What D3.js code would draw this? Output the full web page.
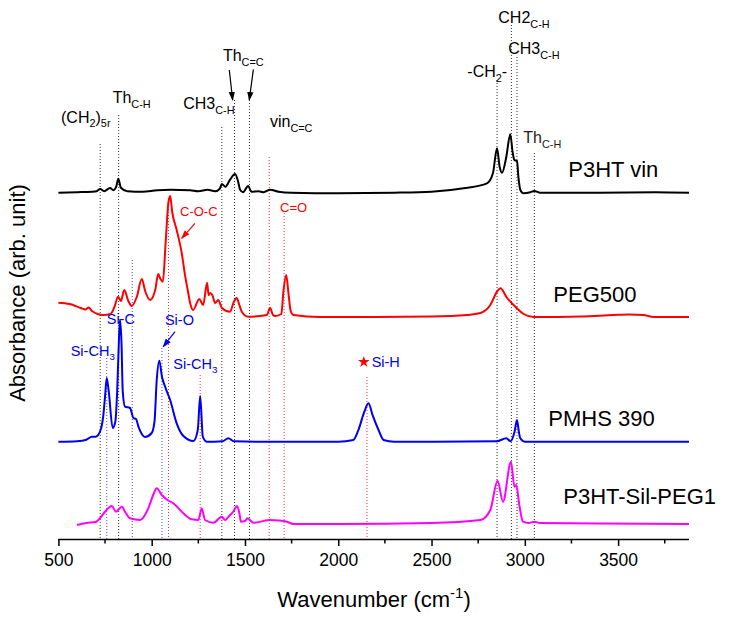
<!DOCTYPE html>
<html><head><meta charset="utf-8">
<script src="https://cdn.jsdelivr.net/npm/d3@7"></script>
<style>
html,body{margin:0;padding:0;background:#fff;}
svg{display:block;font-family:"Liberation Sans",Arial,sans-serif;}
</style></head>
<body>
<svg id="chart" width="729" height="619"></svg>
<script>
// ---------------- DATA ----------------
const xDomain = [500, 3880];
const yDomain = [0, 53.9];               // arbitrary absorbance units
const majorTicks = [500, 1000, 1500, 2000, 2500, 3000, 3500];
const minorTicks = [750, 1250, 1750, 2250, 2750, 3250, 3750];
const xTitle = "Wavenumber (cm";
const yTitle = "Absorbance (arb. unit)";

const seriesNames = ["P3HT vin", "PEG500", "PMHS 390", "P3HT-Sil-PEG1"];
const seriesOffsets = [34.63, 22.2, 9.73, 1.5];

const p3htVin = [[500,0],[600,0.05],[680,0.1],[705,0.15],[724,0.37],[745,0.15],[777,0.47],[795,0.25],[810,0.6],[821,1.4],[835,0.5],[870,0.15],[950,0.1],[1030,0.25],[1100,0.3],[1206,0.25],[1250,0.15],[1300,0.3],[1340,0.15],[1365,0.4],[1376,0.87],[1395,0.6],[1420,1.3],[1447,1.87],[1462,1.2],[1474,0.3],[1490,0.05],[1517,0.67],[1535,0.1],[1572,0.15],[1600,0.05],[1635,0.3],[1680,0.1],[1750,0],[2000,-0.05],[2300,0],[2500,0.1],[2672,0.44],[2797,0.94],[2829,1.94],[2851,4.44],[2865,2.6],[2878,2.0],[2900,3.5],[2922,5.84],[2935,4.0],[2944,3.27],[2958,3.17],[2966,1.5],[2976,0.27],[2994,-0.06],[3030,0.05],[3051,0.17],[3083,0],[3400,0],[3700,0.05],[3880,0]];

const peg500 = [[500,1.43],[560,1.3],[620,0.9],[645,0.75],[662,0.95],[680,0.6],[740,0.2],[780,0.3],[800,1.0],[820,2.03],[835,1.6],[853,2.7],[875,1.6],[893,1.1],[920,2.0],[947,3.8],[965,2.6],[992,1.7],[1020,2.8],[1035,4.3],[1047,3.8],[1060,3.53],[1075,7.5],[1090,11.5],[1099,12.1],[1110,10.5],[1134,8.7],[1161,6.4],[1180,4.03],[1195,2.5],[1206,1.4],[1222,0.7],[1255,1.8],[1276,1.2],[1297,3.43],[1305,2.2],[1313,2.4],[1325,2.2],[1340,1.4],[1357,1.7],[1376,0.9],[1420,0.53],[1440,1.5],[1456,1.9],[1470,1.2],[1483,0.53],[1517,0.03],[1617,0.2],[1635,0.9],[1650,0.2],[1662,0.1],[1695,0.3],[1706,2.53],[1721,4.2],[1733,2.4],[1745,0.6],[1760,0.2],[1900,0],[2200,0],[2500,0.05],[2690,0.2],[2762,0.4],[2815,1.2],[2851,2.53],[2869,2.87],[2905,1.9],[2940,1.2],[2994,0.3],[3046,0],[3300,0.05],[3477,0.2],[3560,0.25],[3637,0.2],[3690,0],[3880,0]];

const pmhs390 = [[500,0],[600,0.05],[650,0.2],[679,0.5],[700,0.5],[723,1.0],[740,2.5],[750,4.5],[759,6.37],[770,5.0],[791,1.37],[805,2.0],[815,5.0],[825,10.5],[830,12.2],[838,10.0],[845,5.0],[857,3.5],[884,3.37],[902,2.37],[916,2.27],[929,1.5],[964,0.47],[1000,0.87],[1015,2.0],[1027,6.17],[1041,8.1],[1055,6.5],[1072,5.5],[1099,4.17],[1134,1.84],[1170,0.57],[1224,0.07],[1247,1.17],[1260,4.57],[1274,0.5],[1295,0],[1380,0.05],[1411,0.34],[1440,0.05],[1600,0],[2000,0],[2081,0.17],[2108,1.17],[2140,3.0],[2162,3.84],[2185,2.6],[2216,1.17],[2243,0.17],[2300,0],[2850,0.05],[2901,0.34],[2923,0.05],[2945,1.0],[2958,2.17],[2968,1.0],[2976,0.34],[3000,0],[3880,0]];

const p3htSilPeg1 = [[600,-0.1],[650,0.1],[700,0.2],[714,0.4],[750,1.23],[786,1.8],[809,1.23],[840,1.73],[857,1.23],[884,0.57],[938,0.4],[982,1.57],[1010,3.0],[1027,3.57],[1054,2.9],[1085,2.4],[1116,2.07],[1170,1.07],[1215,0.47],[1250,0.4],[1268,1.57],[1286,0.4],[1331,0.13],[1376,0.73],[1393,0.4],[1420,0.9],[1440,1.3],[1456,1.8],[1470,1.1],[1478,0.23],[1500,0.3],[1513,0.57],[1546,0.13],[1635,0.4],[1680,0.35],[1724,0.23],[1760,0],[2000,0],[2500,0.1],[2762,0.4],[2815,1.4],[2854,4.33],[2883,2.23],[2926,6.23],[2944,3.73],[2954,3.9],[2972,1.73],[2990,0.23],[3020,0.1],[3051,0.23],[3080,0.1],[3400,0.05],[3880,0]];

const seriesData = [p3htVin, peg500, pmhs390, p3htSilPeg1];

// dotted guide lines: [wavenumber, top level, group]
const guideLines = [[724,39.5,"k"],[823,42.4,"k"],[1376,41.2,"k"],[1444,43.9,"k"],[1524,43.9,"k"],[1630,38.2,"r"],[1090,33.9,"r"],[1710,32.6,"r"],[1260,16.4,"r"],[2154,16.2,"r"],[759,18.1,"b"],[896,27.9,"b"],[1055,19.1,"b"],[2851,45.9,"k"],[2928,51.4,"k"],[2958,48.2,"k"],[3051,38.6,"k"]];

// annotation labels: [wavenumber, level, group, parts]
const annotations = [
  [514, 41.65, "k", [["(CH","n"],["2","sub"],[")","n"],["5r","sub"]]],
  [791, 43.63, "k", [["Th","n"],["C-H","sub"]]],
  [1169, 42.97, "k", [["CH3","n"],["C-H","sub"]]],
  [1382, 47.8, "k", [["Th","n"],["C=C","sub"]]],
  [1634, 41.17, "k", [["vin","n"],["C=C","sub"]]],
  [2692, 46.17, "k", [["-CH","n"],["2","sub"],["-","n"]]],
  [2858, 51.63, "k", [["CH2","n"],["C-H","sub"]]],
  [2911, 48.5, "k", [["CH3","n"],["C-H","sub"]]],
  [2992, 39.57, "k2", [["Th","n"],["C-H","sub"]]],
  [1152, 32.3, "r", [["C-O-C","n"]]],
  [1688, 32.73, "r", [["C=O","n"]]],
  [759, 21.5, "b", [["Si-C","n"]]],
  [1071, 21.4, "b", [["Si-O","n"]]],
  [566, 18.33, "b", [["Si-CH","n"],["3","sub"]]],
  [1116, 17.0, "b", [["Si-CH","n"],["3","sub"]]],
  [2179, 17.17, "b", [["Si-H","n"]]]
];
const starMarks = [[2137, 17.7]];

// arrows: [x1, y1, x2, y2, group]  (data coords)
const arrows = [[1416,46.9,1434,43.9,"k"],[1545,46.97,1523,43.9,"k"],[1232,31.57,1161,30.07,"r"],[1125,20.73,1062,19.23,"b"]];

// series label anchors: [wavenumber, level]
const seriesLabelPos = [[3233,36.23],[3153,23.73],[3126,11.3],[3206,3.47]];

// ---------------- STYLE ----------------
const seriesColors = ["#000000", "#ff0000", "#0000ee", "#ff00ff"];
const groupStyle = {
  k: {color:"#000", guide:"#333", size:16},
  k2:{color:"#2a1a1a", guide:"#333", size:16},
  r: {color:"#ff0000", guide:"#ff3030", size:13},
  b: {color:"#0000ee", guide:"#4848ff", size:14.5}
};

// ---------------- DRAW ----------------
const svg = d3.select("#chart");
const x = d3.scaleLinear().domain(xDomain).range([58.4, 689]);
const y = d3.scaleLinear().domain(yDomain).range([539, 0]);

// guide lines
svg.append("g").selectAll("line").data(guideLines).join("line")
  .attr("x1", d => x(d[0])).attr("x2", d => x(d[0]))
  .attr("y1", d => y(d[1])).attr("y2", y(0))
  .attr("stroke", d => groupStyle[d[2]].guide)
  .attr("stroke-width", 1)
  .attr("stroke-dasharray", "1,2");

// spectra
const line = d3.line().x(d => x(d[0])).curve(d3.curveMonotoneX);
seriesData.forEach((data, i) => {
  svg.append("path")
    .attr("d", line.y(d => y(d[1] + seriesOffsets[i]))(data))
    .attr("fill", "none")
    .attr("stroke", seriesColors[i])
    .attr("stroke-width", 2)
    .attr("stroke-linejoin", "round");
});

// x axis
const axisG = svg.append("g").attr("transform", `translate(0,${y(0)})`);
axisG.call(d3.axisBottom(x).tickValues(majorTicks).tickSize(7).tickPadding(8).tickFormat(d3.format("d")));
axisG.select(".domain").attr("stroke-width", 1.5).attr("d", `M${x(xDomain[0])},0.5H${x(xDomain[1])}`);
axisG.selectAll(".tick line").attr("stroke-width", 1.5);
axisG.selectAll(".tick text").attr("font-size", 17.5).attr("font-family", "Liberation Sans, Arial, sans-serif").attr("fill", "#000");
axisG.selectAll(".minor").data(minorTicks).join("line").attr("class","minor")
  .attr("x1", d => x(d)).attr("x2", d => x(d)).attr("y1", 0).attr("y2", 4.5)
  .attr("stroke", "#000").attr("stroke-width", 1.5);

// rich text helper
function rich(g, px, py, parts, size, color, anchor) {
  const t = g.append("text").attr("x", px).attr("y", py).attr("font-size", size).attr("fill", color);
  if (anchor) t.attr("text-anchor", anchor);
  let cur = 0;
  parts.forEach(([s, type]) => {
    const target = type === "sub" ? size * 0.3 : type === "sup" ? -size * 0.4 : 0;
    t.append("tspan").attr("dy", target - cur)
      .attr("font-size", type === "n" ? size : size * 0.68).text(s);
    cur = target;
  });
  return t;
}

const annG = svg.append("g");
annotations.forEach(([wn, lv, grp, parts]) => {
  const st = groupStyle[grp];
  rich(annG, x(wn), y(lv), parts, st.size, st.color);
});

svg.selectAll(".star").data(starMarks).join("path").attr("class","star")
  .attr("transform", d => `translate(${x(d[0])},${y(d[1])})`)
  .attr("d", d3.symbol().type(d3.symbolStar).size(42))
  .attr("fill", "#ff0000");

// arrows
const defs = svg.append("defs");
Object.entries(groupStyle).forEach(([k, st]) => {
  defs.append("marker").attr("id", "ah-" + k).attr("viewBox", "0 0 10 10")
    .attr("refX", 9).attr("refY", 5).attr("markerWidth", 9).attr("markerHeight", 9)
    .attr("markerUnits", "userSpaceOnUse").attr("orient", "auto")
    .append("path").attr("d", "M0,1.5L10,5L0,8.5Z").attr("fill", st.color);
});
svg.append("g").selectAll("line").data(arrows).join("line")
  .attr("x1", d => x(d[0])).attr("y1", d => y(d[1]))
  .attr("x2", d => x(d[2])).attr("y2", d => y(d[3]))
  .attr("stroke", d => groupStyle[d[4]].color).attr("stroke-width", 1.2)
  .attr("marker-end", d => `url(#ah-${d[4]})`);

// series labels
seriesNames.forEach((n, i) => {
  svg.append("text").attr("x", x(seriesLabelPos[i][0])).attr("y", y(seriesLabelPos[i][1]))
    .attr("font-size", 22).attr("fill", "#000").text(n);
});

// axis titles
rich(svg, 374, 606.5, [[xTitle, "n"], ["-1", "sup"], [")", "n"]], 22, "#000", "middle");
svg.append("text").attr("transform", "translate(24.5,293) rotate(-90)")
  .attr("text-anchor", "middle").attr("font-size", 22).attr("fill", "#000").text(yTitle);
</script>
</body></html>
